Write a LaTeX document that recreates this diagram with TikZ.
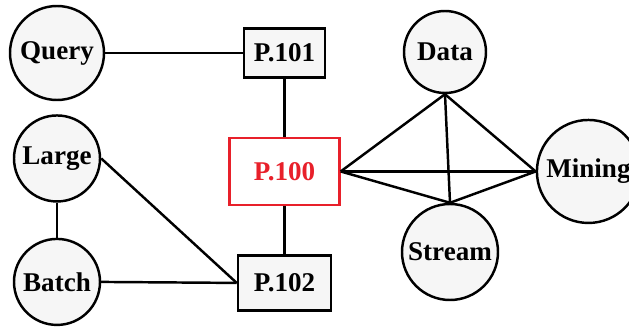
\documentclass[tikz,border=0pt]{standalone}
\usepackage{fontspec}
\setmainfont{Liberation Serif}
\usetikzlibrary{positioning}

\definecolor{nodefill}{HTML}{F6F6F6}
\definecolor{hotred}{HTML}{E8202A}

\begin{document}
\begin{tikzpicture}[
    line width=1.4pt,
    font=\fontsize{15.4}{17}\selectfont\bfseries,
    word/.style={
        draw, circle, fill=nodefill, inner sep=0pt, minimum size=1.72cm
    },
    page/.style={
        draw, rectangle, fill=nodefill, inner sep=0pt, minimum width=1.7cm, minimum height=1.0cm
    },
    hot/.style={
        page, draw=hotred, text=hotred, fill=white, minimum width=2.2cm, minimum height=1.34cm
    },
]
    \useasboundingbox (0,0) rectangle (12.58,-6.52);

    \node[word, minimum size=1.88cm] (query) at (1.14,-1.06) {Query};
    \node[page, minimum width=1.62cm, minimum height=.98cm, right=2.75cm of query] (p101) {P.101};
    \node[hot, below=1.16cm of p101] (p100) {P.100};
    \node[page, minimum width=1.86cm, minimum height=1.1cm, below=.96cm of p100] (p102) {P.102};
    \node[word, below=.26cm of query] (large) {Large};
    \node[word, below=.7cm of large] (batch) {Batch};

    \node[word, minimum size=1.64cm] (data) at (8.9,-1.04) {Data};
    \node[word, minimum size=1.92cm] (stream) at (9.0,-5.04) {Stream};
    \node[word, minimum size=2.06cm, right=3.9cm of p100] (mining) {Mining};

    \draw (query.east) to (p101.west);
    \draw (p101) to (p100);
    \draw (p100) to (p102);

    \draw (large) to (batch);
    \draw (large.east) to (p102.west);
    \draw (batch.east) to (p102.west);

    % the clique on the right
    \draw (p100.east) to (data.south);
    \draw (p100.east) to (mining.west);
    \draw (p100.east) to (stream.north);
    \draw (data.south) to (mining.west);
    \draw (data.south) to (stream.north);
    \draw (stream.north) to (mining.west);

\end{tikzpicture}
\end{document}
